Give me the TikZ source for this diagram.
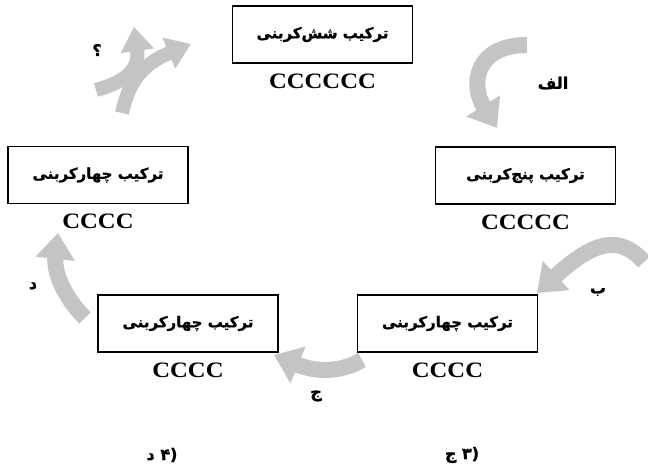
\documentclass[tikz,border=0pt]{standalone}
\usepackage{fontspec}
\setmainfont{Liberation Serif}
\newfontfamily\chainfont[FakeStretch=1.12]{Liberation Serif}
\newfontfamily\farsifont[Script=Arabic,BoldFont={DejaVu Sans Bold},BoldFeatures={FakeBold=1.2}]{DejaVu Sans}
\TeXXeTstate=1
\usetikzlibrary{positioning,arrows.meta}
\definecolor{arrowgrey}{RGB}{196,196,196}

\begin{document}
\begin{tikzpicture}[x=1bp,y=-1bp,
box/.style ={rectangle, draw, line width=1.2bp,
  minimum width=180bp, minimum height=57bp,
  font=\farsifont\bfseries\fontsize{15bp}{17bp}\selectfont
},
chain/.style ={inner sep=0pt,
  font=\chainfont\bfseries\fontsize{22bp}{24bp}\selectfont
},
tag/.style ={inner sep=0pt,
  font=\farsifont\bfseries\fontsize{16bp}{18bp}\selectfont
},
garrow/.style ={line width=16bp, draw=arrowgrey,
  -{Triangle[width=38bp,length=26bp]}
},
farrow/.style ={line width=14bp, draw=arrowgrey,
  -{Triangle[width=32bp,length=24bp]}
}]
\useasboundingbox (0,0) rectangle (648,472);
% carbon boxes
\node (six) at (322.5,34.5) [box] {\beginR ترکیب شش‌کربنی\endR};
\node (five) at (525.5,175.5) [box] {\beginR ترکیب پنج‌کربنی\endR};
\node (fourL) at (98,175) [box] {\beginR ترکیب چهارکربنی\endR};
\node (fourBL) at (188,323.5) [box] {\beginR ترکیب چهارکربنی\endR};
\node (fourBR) at (447.5,323.5) [box] {\beginR ترکیب چهارکربنی\endR};
% chains
\node (c6) [chain, below=10bp of six] {CCCCCC};
\node (c5) [chain, below=10bp of five] {CCCCC};
\node (c4L) [chain, below=10bp of fourL] {CCCC};
\node (c4BL) [chain, below=10bp of fourBL] {CCCC};
\node (c4BR) [chain, below=10bp of fourBR] {CCCC};
% grey arrows
\coordinate (a1) at (527,45);
\coordinate (a2) at (497,128);
\draw[garrow] (a1) .. controls (475,45) and (470,85) .. (a2);
\coordinate (b1) at (644,262);
\coordinate (b2) at (537,293);
\draw[garrow] (b1) .. controls (620,235) and (595,240) .. (b2);
\coordinate (j1) at (362,360);
\coordinate (j2) at (274,355);
\draw[garrow] (j1) .. controls (340,373) and (315,372) .. (j2);
\coordinate (d1) at (85,318);
\coordinate (d2) at (58,233);
\draw[garrow] (d1) .. controls (62,295) and (54,270) .. (d2);
\coordinate (q1) at (122,113);
\coordinate (q2) at (191,44);
\coordinate (q3) at (96,90);
\coordinate (q4) at (134,27);
\draw[farrow] (q3) .. controls (125,82) and (140,70) .. (q4);
\draw[farrow] (q1) .. controls (128,85) and (140,65) .. (q2);
% letters
\node (tq) at (97,50) [tag] {؟};
\node (ta) at (553,83) [tag] {\beginR الف\endR};
\node (tb) at (598,292) [tag] {ب};
\node (tj) at (316,396) [tag] {ج};
\node (td) at (33,286) [tag] {د};
\node (ans4) at (162,455) [tag] {\beginR (۴ د\endR};
\node (ans3) at (462,455) [tag] {\beginR (۳ ج\endR};
\end{tikzpicture}
\end{document}
